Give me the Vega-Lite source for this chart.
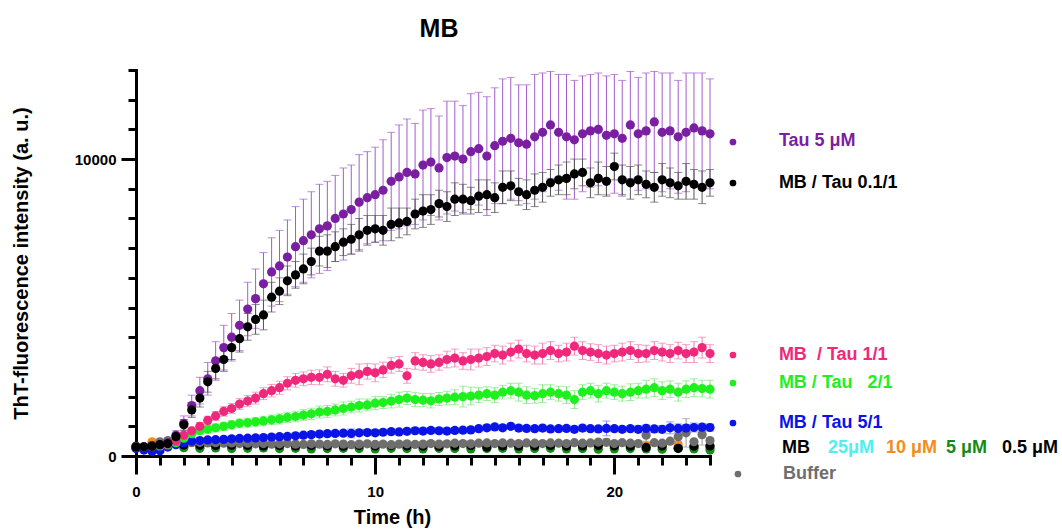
{
"$schema": "https://vega.github.io/schema/vega-lite/v6.json",
"width": 574, "height": 386,
"autosize": {"type": "none"},
"padding": {"left": 136, "top": 70, "right": 352, "bottom": 75},
"background": "white",
"title": {"text": "MB", "fontSize": 25, "font": "Liberation Sans", "fontWeight": "bold", "anchor": "middle", "dx": 16, "dy": 31, "offset": 32, "baseline": "alphabetic", "color": "black"},
"config": {"view": {"stroke": null}, "font": "Liberation Sans"},
"datasets": {
"pts": [
{"s":"C","t":0,"y":300},{"s":"C","t":0.67,"y":330},{"s":"C","t":1.33,"y":380},{"s":"C","t":2,"y":320},{"s":"C","t":2.67,"y":300},{"s":"C","t":3.33,"y":310},{"s":"C","t":4,"y":290},{"s":"C","t":4.67,"y":300},{"s":"C","t":5.33,"y":280},{"s":"C","t":6,"y":290},{"s":"C","t":6.67,"y":300},{"s":"C","t":7.33,"y":280},{"s":"C","t":8,"y":290},{"s":"C","t":8.67,"y":300},{"s":"C","t":9.33,"y":290},{"s":"C","t":10,"y":280},{"s":"C","t":10.67,"y":300},{"s":"C","t":11.33,"y":290},{"s":"C","t":12,"y":300},{"s":"C","t":12.67,"y":310},{"s":"C","t":13.33,"y":290},{"s":"C","t":14,"y":300},{"s":"C","t":14.67,"y":290},{"s":"C","t":15.33,"y":280},{"s":"C","t":16,"y":300},{"s":"C","t":16.67,"y":290},{"s":"C","t":17.33,"y":300},{"s":"C","t":18,"y":310},{"s":"C","t":18.67,"y":290},{"s":"C","t":19.33,"y":300},{"s":"C","t":20,"y":280},{"s":"C","t":20.67,"y":290},{"s":"C","t":21.33,"y":300},{"s":"C","t":22,"y":310},{"s":"C","t":22.67,"y":290},{"s":"C","t":23.33,"y":300},{"s":"C","t":24,"y":290},
{"s":"O","t":0,"y":320},{"s":"O","t":0.67,"y":480},{"s":"O","t":1.33,"y":420},{"s":"O","t":2,"y":330},{"s":"O","t":2.67,"y":320},{"s":"O","t":3.33,"y":310},{"s":"O","t":4,"y":300},{"s":"O","t":4.67,"y":320},{"s":"O","t":5.33,"y":310},{"s":"O","t":6,"y":300},{"s":"O","t":6.67,"y":290},{"s":"O","t":7.33,"y":310},{"s":"O","t":8,"y":300},{"s":"O","t":8.67,"y":290},{"s":"O","t":9.33,"y":310},{"s":"O","t":10,"y":300},{"s":"O","t":10.67,"y":320},{"s":"O","t":11.33,"y":300},{"s":"O","t":12,"y":310},{"s":"O","t":12.67,"y":290},{"s":"O","t":13.33,"y":300},{"s":"O","t":14,"y":310},{"s":"O","t":14.67,"y":320},{"s":"O","t":15.33,"y":300},{"s":"O","t":16,"y":310},{"s":"O","t":16.67,"y":300},{"s":"O","t":17.33,"y":290},{"s":"O","t":18,"y":310},{"s":"O","t":18.67,"y":300},{"s":"O","t":19.33,"y":320},{"s":"O","t":20,"y":310},{"s":"O","t":20.67,"y":300},{"s":"O","t":21.33,"y":350},{"s":"O","t":22,"y":320},{"s":"O","t":22.67,"y":380},{"s":"O","t":23.33,"y":330},{"s":"O","t":24,"y":300},
{"s":"D","t":0,"y":280},{"s":"D","t":0.67,"y":300},{"s":"D","t":1.33,"y":320},{"s":"D","t":2,"y":280},{"s":"D","t":2.67,"y":260},{"s":"D","t":3.33,"y":270},{"s":"D","t":4,"y":250},{"s":"D","t":4.67,"y":260},{"s":"D","t":5.33,"y":270},{"s":"D","t":6,"y":250},{"s":"D","t":6.67,"y":260},{"s":"D","t":7.33,"y":240},{"s":"D","t":8,"y":250},{"s":"D","t":8.67,"y":260},{"s":"D","t":9.33,"y":250},{"s":"D","t":10,"y":240},{"s":"D","t":10.67,"y":260},{"s":"D","t":11.33,"y":250},{"s":"D","t":12,"y":240},{"s":"D","t":12.67,"y":260},{"s":"D","t":13.33,"y":250},{"s":"D","t":14,"y":240},{"s":"D","t":14.67,"y":250},{"s":"D","t":15.33,"y":260},{"s":"D","t":16,"y":240},{"s":"D","t":16.67,"y":250},{"s":"D","t":17.33,"y":260},{"s":"D","t":18,"y":240},{"s":"D","t":18.67,"y":250},{"s":"D","t":19.33,"y":230},{"s":"D","t":20,"y":240},{"s":"D","t":20.67,"y":250},{"s":"D","t":21.33,"y":240},{"s":"D","t":22,"y":230},{"s":"D","t":22.67,"y":250},{"s":"D","t":23.33,"y":240},{"s":"D","t":24,"y":200},
{"s":"Z","t":0,"y":330},{"s":"Z","t":0.67,"y":350},{"s":"Z","t":1.33,"y":390},{"s":"Z","t":2,"y":370},{"s":"Z","t":2.67,"y":360},{"s":"Z","t":3.33,"y":350},{"s":"Z","t":4,"y":360},{"s":"Z","t":4.67,"y":350},{"s":"Z","t":5.33,"y":340},{"s":"Z","t":6,"y":350},{"s":"Z","t":6.67,"y":340},{"s":"Z","t":7.33,"y":350},{"s":"Z","t":8,"y":340},{"s":"Z","t":8.67,"y":330},{"s":"Z","t":9.33,"y":350},{"s":"Z","t":10,"y":340},{"s":"Z","t":10.67,"y":350},{"s":"Z","t":11.33,"y":340},{"s":"Z","t":12,"y":330},{"s":"Z","t":12.67,"y":320},{"s":"Z","t":13.33,"y":340},{"s":"Z","t":14,"y":350},{"s":"Z","t":14.67,"y":300},{"s":"Z","t":15.33,"y":340},{"s":"Z","t":16,"y":330},{"s":"Z","t":16.67,"y":340},{"s":"Z","t":17.33,"y":350},{"s":"Z","t":18,"y":330},{"s":"Z","t":18.67,"y":340},{"s":"Z","t":19.33,"y":350},{"s":"Z","t":20,"y":340},{"s":"Z","t":20.67,"y":330},{"s":"Z","t":21.33,"y":290},{"s":"Z","t":22,"y":340},{"s":"Z","t":22.67,"y":260},{"s":"Z","t":23.33,"y":330},{"s":"Z","t":24,"y":340},
{"s":"Y","t":0,"y":280},{"s":"Y","t":0.33,"y":290},{"s":"Y","t":0.67,"y":330},{"s":"Y","t":1,"y":480},{"s":"Y","t":1.33,"y":520},{"s":"Y","t":1.67,"y":500},{"s":"Y","t":2,"y":470},{"s":"Y","t":2.33,"y":450},{"s":"Y","t":2.67,"y":460},{"s":"Y","t":3,"y":440},{"s":"Y","t":3.33,"y":450},{"s":"Y","t":3.67,"y":430},{"s":"Y","t":4,"y":440},{"s":"Y","t":4.33,"y":420},{"s":"Y","t":4.67,"y":430},{"s":"Y","t":5,"y":410},{"s":"Y","t":5.33,"y":420},{"s":"Y","t":5.67,"y":400},{"s":"Y","t":6,"y":410},{"s":"Y","t":6.33,"y":420},{"s":"Y","t":6.67,"y":400},{"s":"Y","t":7,"y":390},{"s":"Y","t":7.33,"y":410},{"s":"Y","t":7.67,"y":400},{"s":"Y","t":8,"y":390},{"s":"Y","t":8.33,"y":410},{"s":"Y","t":8.67,"y":400},{"s":"Y","t":9,"y":380},{"s":"Y","t":9.33,"y":400},{"s":"Y","t":9.67,"y":410},{"s":"Y","t":10,"y":390},{"s":"Y","t":10.33,"y":400},{"s":"Y","t":10.67,"y":380},{"s":"Y","t":11,"y":400},{"s":"Y","t":11.33,"y":410},{"s":"Y","t":11.67,"y":390},{"s":"Y","t":12,"y":400},{"s":"Y","t":12.33,"y":420},{"s":"Y","t":12.67,"y":400},{"s":"Y","t":13,"y":410},{"s":"Y","t":13.33,"y":430},{"s":"Y","t":13.67,"y":420},{"s":"Y","t":14,"y":410},{"s":"Y","t":14.33,"y":430},{"s":"Y","t":14.67,"y":440},{"s":"Y","t":15,"y":420},{"s":"Y","t":15.33,"y":440},{"s":"Y","t":15.67,"y":430},{"s":"Y","t":16,"y":420},{"s":"Y","t":16.33,"y":440},{"s":"Y","t":16.67,"y":430},{"s":"Y","t":17,"y":420},{"s":"Y","t":17.33,"y":440},{"s":"Y","t":17.67,"y":430},{"s":"Y","t":18,"y":420},{"s":"Y","t":18.33,"y":450},{"s":"Y","t":18.67,"y":430},{"s":"Y","t":19,"y":440},{"s":"Y","t":19.33,"y":470},{"s":"Y","t":19.67,"y":460,"e":120},{"s":"Y","t":20,"y":420},{"s":"Y","t":20.33,"y":450},{"s":"Y","t":20.67,"y":430},{"s":"Y","t":21,"y":420},{"s":"Y","t":21.33,"y":700,"e":200},{"s":"Y","t":21.67,"y":450},{"s":"Y","t":22,"y":430},{"s":"Y","t":22.33,"y":500},{"s":"Y","t":22.67,"y":650,"e":150},{"s":"Y","t":23,"y":780,"e":480},{"s":"Y","t":23.33,"y":480},{"s":"Y","t":23.67,"y":720,"e":350},{"s":"Y","t":24,"y":520},
{"s":"B","t":0,"y":250,"e":50},{"s":"B","t":0.33,"y":200,"e":50},{"s":"B","t":0.67,"y":150,"e":50},{"s":"B","t":1,"y":180,"e":50},{"s":"B","t":1.33,"y":300,"e":60},{"s":"B","t":1.67,"y":380,"e":60},{"s":"B","t":2,"y":450,"e":60},{"s":"B","t":2.33,"y":500,"e":70},{"s":"B","t":2.67,"y":520,"e":70},{"s":"B","t":3,"y":540,"e":70},{"s":"B","t":3.33,"y":550,"e":80},{"s":"B","t":3.67,"y":560,"e":80},{"s":"B","t":4,"y":580,"e":80},{"s":"B","t":4.33,"y":590,"e":80},{"s":"B","t":4.67,"y":600,"e":80},{"s":"B","t":5,"y":610,"e":90},{"s":"B","t":5.33,"y":620,"e":90},{"s":"B","t":5.67,"y":640,"e":90},{"s":"B","t":6,"y":650,"e":90},{"s":"B","t":6.33,"y":660,"e":90},{"s":"B","t":6.67,"y":680,"e":90},{"s":"B","t":7,"y":700,"e":100},{"s":"B","t":7.33,"y":720,"e":100},{"s":"B","t":7.67,"y":740,"e":100},{"s":"B","t":8,"y":750,"e":100},{"s":"B","t":8.33,"y":760,"e":100},{"s":"B","t":8.67,"y":770,"e":100},{"s":"B","t":9,"y":760,"e":150},{"s":"B","t":9.33,"y":780,"e":100},{"s":"B","t":9.67,"y":790,"e":100},{"s":"B","t":10,"y":780,"e":100},{"s":"B","t":10.33,"y":800,"e":100},{"s":"B","t":10.67,"y":820,"e":100},{"s":"B","t":11,"y":810,"e":100},{"s":"B","t":11.33,"y":830,"e":100},{"s":"B","t":11.67,"y":850,"e":100},{"s":"B","t":12,"y":840,"e":100},{"s":"B","t":12.33,"y":860,"e":100},{"s":"B","t":12.67,"y":850,"e":100},{"s":"B","t":13,"y":840,"e":100},{"s":"B","t":13.33,"y":860,"e":100},{"s":"B","t":13.67,"y":870,"e":100},{"s":"B","t":14,"y":880,"e":100},{"s":"B","t":14.33,"y":920,"e":100},{"s":"B","t":14.67,"y":950,"e":100},{"s":"B","t":15,"y":980,"e":100},{"s":"B","t":15.33,"y":950,"e":100},{"s":"B","t":15.67,"y":1000,"e":100},{"s":"B","t":16,"y":940,"e":100},{"s":"B","t":16.33,"y":930,"e":100},{"s":"B","t":16.67,"y":920,"e":100},{"s":"B","t":17,"y":940,"e":100},{"s":"B","t":17.33,"y":910,"e":100},{"s":"B","t":17.67,"y":920,"e":100},{"s":"B","t":18,"y":930,"e":100},{"s":"B","t":18.33,"y":900,"e":100},{"s":"B","t":18.67,"y":940,"e":100},{"s":"B","t":19,"y":920,"e":100},{"s":"B","t":19.33,"y":910,"e":100},{"s":"B","t":19.67,"y":930,"e":250},{"s":"B","t":20,"y":920,"e":100},{"s":"B","t":20.33,"y":900,"e":100},{"s":"B","t":20.67,"y":920,"e":100},{"s":"B","t":21,"y":900,"e":120},{"s":"B","t":21.33,"y":930,"e":120},{"s":"B","t":21.67,"y":910,"e":120},{"s":"B","t":22,"y":900,"e":120},{"s":"B","t":22.33,"y":950,"e":200},{"s":"B","t":22.67,"y":930,"e":150},{"s":"B","t":23,"y":940,"e":120},{"s":"B","t":23.33,"y":960,"e":150},{"s":"B","t":23.67,"y":970,"e":120},{"s":"B","t":24,"y":960,"e":120},
{"s":"G","t":0,"y":300,"e":50},{"s":"G","t":0.33,"y":310,"e":50},{"s":"G","t":0.67,"y":320,"e":50},{"s":"G","t":1,"y":340,"e":50},{"s":"G","t":1.33,"y":370,"e":60},{"s":"G","t":1.67,"y":450,"e":80},{"s":"G","t":2,"y":600,"e":100},{"s":"G","t":2.33,"y":750,"e":120},{"s":"G","t":2.67,"y":850,"e":120},{"s":"G","t":3,"y":900,"e":130},{"s":"G","t":3.33,"y":950,"e":130},{"s":"G","t":3.67,"y":1000,"e":140},{"s":"G","t":4,"y":1050,"e":140},{"s":"G","t":4.33,"y":1100,"e":150},{"s":"G","t":4.67,"y":1120,"e":150},{"s":"G","t":5,"y":1150,"e":150},{"s":"G","t":5.33,"y":1180,"e":160},{"s":"G","t":5.67,"y":1220,"e":160},{"s":"G","t":6,"y":1250,"e":170},{"s":"G","t":6.33,"y":1300,"e":170},{"s":"G","t":6.67,"y":1330,"e":180},{"s":"G","t":7,"y":1380,"e":180},{"s":"G","t":7.33,"y":1420,"e":190},{"s":"G","t":7.67,"y":1480,"e":200},{"s":"G","t":8,"y":1500,"e":200},{"s":"G","t":8.33,"y":1550,"e":200},{"s":"G","t":8.67,"y":1600,"e":220},{"s":"G","t":9,"y":1650,"e":200},{"s":"G","t":9.33,"y":1700,"e":220},{"s":"G","t":9.67,"y":1720,"e":200},{"s":"G","t":10,"y":1780,"e":220},{"s":"G","t":10.33,"y":1800,"e":200},{"s":"G","t":10.67,"y":1850,"e":230},{"s":"G","t":11,"y":1900,"e":250},{"s":"G","t":11.33,"y":1950,"e":220},{"s":"G","t":11.67,"y":1900,"e":230},{"s":"G","t":12,"y":1880,"e":220},{"s":"G","t":12.33,"y":1860,"e":240},{"s":"G","t":12.67,"y":1920,"e":220},{"s":"G","t":13,"y":1950,"e":230},{"s":"G","t":13.33,"y":1980,"e":250},{"s":"G","t":13.67,"y":2000,"e":350},{"s":"G","t":14,"y":2020,"e":300},{"s":"G","t":14.33,"y":2050,"e":250},{"s":"G","t":14.67,"y":2100,"e":230},{"s":"G","t":15,"y":2050,"e":250},{"s":"G","t":15.33,"y":2150,"e":230},{"s":"G","t":15.67,"y":2200,"e":250},{"s":"G","t":16,"y":2150,"e":300},{"s":"G","t":16.33,"y":2050,"e":280},{"s":"G","t":16.67,"y":2030,"e":250},{"s":"G","t":17,"y":2100,"e":300},{"s":"G","t":17.33,"y":2150,"e":250},{"s":"G","t":17.67,"y":2100,"e":250},{"s":"G","t":18,"y":2050,"e":280},{"s":"G","t":18.33,"y":1900,"e":300},{"s":"G","t":18.67,"y":2150,"e":250},{"s":"G","t":19,"y":2200,"e":250},{"s":"G","t":19.33,"y":2100,"e":280},{"s":"G","t":19.67,"y":2200,"e":250},{"s":"G","t":20,"y":2150,"e":250},{"s":"G","t":20.33,"y":2100,"e":250},{"s":"G","t":20.67,"y":2150,"e":280},{"s":"G","t":21,"y":2200,"e":250},{"s":"G","t":21.33,"y":2250,"e":300},{"s":"G","t":21.67,"y":2300,"e":300},{"s":"G","t":22,"y":2200,"e":300},{"s":"G","t":22.33,"y":2250,"e":280},{"s":"G","t":22.67,"y":2150,"e":300},{"s":"G","t":23,"y":2250,"e":280},{"s":"G","t":23.33,"y":2300,"e":300},{"s":"G","t":23.67,"y":2270,"e":280},{"s":"G","t":24,"y":2250,"e":300},
{"s":"R","t":0,"y":300,"e":50},{"s":"R","t":0.33,"y":310,"e":50},{"s":"R","t":0.67,"y":330,"e":50},{"s":"R","t":1,"y":360,"e":60},{"s":"R","t":1.33,"y":400,"e":70},{"s":"R","t":1.67,"y":500,"e":90},{"s":"R","t":2,"y":700,"e":100},{"s":"R","t":2.33,"y":850,"e":120},{"s":"R","t":2.67,"y":1000,"e":130},{"s":"R","t":3,"y":1200,"e":140},{"s":"R","t":3.33,"y":1350,"e":150},{"s":"R","t":3.67,"y":1500,"e":160},{"s":"R","t":4,"y":1600,"e":170},{"s":"R","t":4.33,"y":1750,"e":180},{"s":"R","t":4.67,"y":1850,"e":190},{"s":"R","t":5,"y":1950,"e":200},{"s":"R","t":5.33,"y":2100,"e":200},{"s":"R","t":5.67,"y":2200,"e":210},{"s":"R","t":6,"y":2300,"e":220},{"s":"R","t":6.33,"y":2450,"e":220},{"s":"R","t":6.67,"y":2550,"e":230},{"s":"R","t":7,"y":2600,"e":230},{"s":"R","t":7.33,"y":2650,"e":240},{"s":"R","t":7.67,"y":2650,"e":250},{"s":"R","t":8,"y":2750,"e":250},{"s":"R","t":8.33,"y":2600,"e":250},{"s":"R","t":8.67,"y":2550,"e":230},{"s":"R","t":9,"y":2700,"e":250},{"s":"R","t":9.33,"y":2750,"e":350},{"s":"R","t":9.67,"y":2850,"e":260},{"s":"R","t":10,"y":2800,"e":300},{"s":"R","t":10.33,"y":2900,"e":260},{"s":"R","t":10.67,"y":3050,"e":260},{"s":"R","t":11,"y":3100,"e":250},{"s":"R","t":11.33,"y":2700,"e":250},{"s":"R","t":11.67,"y":3200,"e":280},{"s":"R","t":12,"y":3150,"e":260},{"s":"R","t":12.33,"y":3100,"e":280},{"s":"R","t":12.67,"y":3150,"e":260},{"s":"R","t":13,"y":3250,"e":280},{"s":"R","t":13.33,"y":3300,"e":300},{"s":"R","t":13.67,"y":3200,"e":280},{"s":"R","t":14,"y":3250,"e":350},{"s":"R","t":14.33,"y":3300,"e":300},{"s":"R","t":14.67,"y":3350,"e":300},{"s":"R","t":15,"y":3450,"e":280},{"s":"R","t":15.33,"y":3400,"e":300},{"s":"R","t":15.67,"y":3500,"e":300},{"s":"R","t":16,"y":3600,"e":300},{"s":"R","t":16.33,"y":3450,"e":280},{"s":"R","t":16.67,"y":3400,"e":300},{"s":"R","t":17,"y":3450,"e":350},{"s":"R","t":17.33,"y":3550,"e":300},{"s":"R","t":17.67,"y":3450,"e":280},{"s":"R","t":18,"y":3500,"e":300},{"s":"R","t":18.33,"y":3700,"e":300},{"s":"R","t":18.67,"y":3550,"e":300},{"s":"R","t":19,"y":3500,"e":280},{"s":"R","t":19.33,"y":3450,"e":300},{"s":"R","t":19.67,"y":3400,"e":300},{"s":"R","t":20,"y":3450,"e":280},{"s":"R","t":20.33,"y":3500,"e":300},{"s":"R","t":20.67,"y":3550,"e":300},{"s":"R","t":21,"y":3450,"e":300},{"s":"R","t":21.33,"y":3450,"e":280},{"s":"R","t":21.67,"y":3550,"e":300},{"s":"R","t":22,"y":3500,"e":300},{"s":"R","t":22.33,"y":3450,"e":300},{"s":"R","t":22.67,"y":3550,"e":280},{"s":"R","t":23,"y":3450,"e":300},{"s":"R","t":23.33,"y":3500,"e":350},{"s":"R","t":23.67,"y":3650,"e":350},{"s":"R","t":24,"y":3450,"e":300},
{"s":"P","t":0,"y":300,"e":60},{"s":"P","t":0.33,"y":310,"e":60},{"s":"P","t":0.67,"y":330,"e":70},{"s":"P","t":1,"y":380,"e":80},{"s":"P","t":1.33,"y":450,"e":100},{"s":"P","t":1.67,"y":700,"e":150},{"s":"P","t":2,"y":1100,"e":250},{"s":"P","t":2.33,"y":1700,"e":350},{"s":"P","t":2.67,"y":2200,"e":450},{"s":"P","t":3,"y":2600,"e":550},{"s":"P","t":3.33,"y":3200,"e":650},{"s":"P","t":3.67,"y":3650,"e":750},{"s":"P","t":4,"y":4000,"e":800},{"s":"P","t":4.33,"y":4400,"e":850},{"s":"P","t":4.67,"y":4950,"e":900},{"s":"P","t":5,"y":5300,"e":1000},{"s":"P","t":5.33,"y":5800,"e":1050},{"s":"P","t":5.67,"y":6200,"e":1150},{"s":"P","t":6,"y":6400,"e":1200},{"s":"P","t":6.33,"y":6700,"e":1250},{"s":"P","t":6.67,"y":7050,"e":1350},{"s":"P","t":7,"y":7250,"e":1400},{"s":"P","t":7.33,"y":7450,"e":1450},{"s":"P","t":7.67,"y":7650,"e":1500},{"s":"P","t":8,"y":7750,"e":1500},{"s":"P","t":8.33,"y":8000,"e":1450},{"s":"P","t":8.67,"y":8150,"e":1550},{"s":"P","t":9,"y":8300,"e":1500},{"s":"P","t":9.33,"y":8550,"e":1600},{"s":"P","t":9.67,"y":8700,"e":1550},{"s":"P","t":10,"y":8800,"e":1600},{"s":"P","t":10.33,"y":8950,"e":1700},{"s":"P","t":10.67,"y":9250,"e":1650},{"s":"P","t":11,"y":9400,"e":1750},{"s":"P","t":11.33,"y":9550,"e":1800},{"s":"P","t":11.67,"y":9500,"e":1700},{"s":"P","t":12,"y":9800,"e":1850},{"s":"P","t":12.33,"y":9900,"e":1800},{"s":"P","t":12.67,"y":9700,"e":1750},{"s":"P","t":13,"y":10050,"e":1900},{"s":"P","t":13.33,"y":10100,"e":1850},{"s":"P","t":13.67,"y":10000,"e":1800},{"s":"P","t":14,"y":10250,"e":1950},{"s":"P","t":14.33,"y":10350,"e":1900},{"s":"P","t":14.67,"y":10100,"e":2000},{"s":"P","t":15,"y":10450,"e":1950},{"s":"P","t":15.33,"y":10600,"e":2100},{"s":"P","t":15.67,"y":10700,"e":2050},{"s":"P","t":16,"y":10550,"e":1950},{"s":"P","t":16.33,"y":10500,"e":2000},{"s":"P","t":16.67,"y":10750,"e":2100},{"s":"P","t":17,"y":10900,"e":2000},{"s":"P","t":17.33,"y":11150,"e":1800},{"s":"P","t":17.67,"y":10900,"e":1950},{"s":"P","t":18,"y":10750,"e":2100},{"s":"P","t":18.33,"y":10650,"e":2000},{"s":"P","t":18.67,"y":10850,"e":1950},{"s":"P","t":19,"y":10950,"e":1900},{"s":"P","t":19.33,"y":11000,"e":1900},{"s":"P","t":19.67,"y":10800,"e":2000},{"s":"P","t":20,"y":10850,"e":2000},{"s":"P","t":20.33,"y":10700,"e":1950},{"s":"P","t":20.67,"y":11150,"e":1800},{"s":"P","t":21,"y":10850,"e":1900},{"s":"P","t":21.33,"y":10950,"e":1950},{"s":"P","t":21.67,"y":11250,"e":1700},{"s":"P","t":22,"y":10900,"e":2000},{"s":"P","t":22.33,"y":10950,"e":1950},{"s":"P","t":22.67,"y":10750,"e":1900},{"s":"P","t":23,"y":10900,"e":2000},{"s":"P","t":23.33,"y":11050,"e":1850},{"s":"P","t":23.67,"y":10950,"e":1950},{"s":"P","t":24,"y":10850,"e":1850},
{"s":"K","t":0,"y":300,"e":50},{"s":"K","t":0.33,"y":310,"e":50},{"s":"K","t":0.67,"y":330,"e":50},{"s":"K","t":1,"y":380,"e":60},{"s":"K","t":1.33,"y":420,"e":80},{"s":"K","t":1.67,"y":650,"e":120},{"s":"K","t":2,"y":1050,"e":180},{"s":"K","t":2.33,"y":1550,"e":250},{"s":"K","t":2.67,"y":1950,"e":300},{"s":"K","t":3,"y":2500,"e":350},{"s":"K","t":3.33,"y":2950,"e":350},{"s":"K","t":3.67,"y":3250,"e":400},{"s":"K","t":4,"y":3650,"e":400},{"s":"K","t":4.33,"y":3950,"e":450},{"s":"K","t":4.67,"y":4350,"e":450},{"s":"K","t":5,"y":4600,"e":500},{"s":"K","t":5.33,"y":4750,"e":500},{"s":"K","t":5.67,"y":5350,"e":500},{"s":"K","t":6,"y":5550,"e":450},{"s":"K","t":6.33,"y":5900,"e":500},{"s":"K","t":6.67,"y":6100,"e":450},{"s":"K","t":7,"y":6300,"e":500},{"s":"K","t":7.33,"y":6550,"e":450},{"s":"K","t":7.67,"y":6900,"e":500},{"s":"K","t":8,"y":6900,"e":550},{"s":"K","t":8.33,"y":7050,"e":500},{"s":"K","t":8.67,"y":7200,"e":450},{"s":"K","t":9,"y":7300,"e":500},{"s":"K","t":9.33,"y":7450,"e":550},{"s":"K","t":9.67,"y":7600,"e":500},{"s":"K","t":10,"y":7650,"e":450},{"s":"K","t":10.33,"y":7600,"e":500},{"s":"K","t":10.67,"y":7800,"e":550},{"s":"K","t":11,"y":7850,"e":500},{"s":"K","t":11.33,"y":7900,"e":450},{"s":"K","t":11.67,"y":8150,"e":500},{"s":"K","t":12,"y":8250,"e":550},{"s":"K","t":12.33,"y":8300,"e":500},{"s":"K","t":12.67,"y":8500,"e":450},{"s":"K","t":13,"y":8400,"e":500},{"s":"K","t":13.33,"y":8650,"e":550},{"s":"K","t":13.67,"y":8650,"e":500},{"s":"K","t":14,"y":8600,"e":450},{"s":"K","t":14.33,"y":8750,"e":550},{"s":"K","t":14.67,"y":8800,"e":500},{"s":"K","t":15,"y":8700,"e":500},{"s":"K","t":15.33,"y":9050,"e":550},{"s":"K","t":15.67,"y":9100,"e":500},{"s":"K","t":16,"y":8900,"e":450},{"s":"K","t":16.33,"y":8800,"e":500},{"s":"K","t":16.67,"y":8950,"e":550},{"s":"K","t":17,"y":9050,"e":500},{"s":"K","t":17.33,"y":9200,"e":450},{"s":"K","t":17.67,"y":9300,"e":500},{"s":"K","t":18,"y":9350,"e":550},{"s":"K","t":18.33,"y":9500,"e":500},{"s":"K","t":18.67,"y":9550,"e":450},{"s":"K","t":19,"y":9200,"e":500},{"s":"K","t":19.33,"y":9350,"e":550},{"s":"K","t":19.67,"y":9250,"e":500},{"s":"K","t":20,"y":9750,"e":450},{"s":"K","t":20.33,"y":9300,"e":500},{"s":"K","t":20.67,"y":9200,"e":550},{"s":"K","t":21,"y":9300,"e":500},{"s":"K","t":21.33,"y":9150,"e":450},{"s":"K","t":21.67,"y":9050,"e":500},{"s":"K","t":22,"y":9300,"e":550},{"s":"K","t":22.33,"y":9200,"e":500},{"s":"K","t":22.67,"y":9100,"e":450},{"s":"K","t":23,"y":9250,"e":600},{"s":"K","t":23.33,"y":9150,"e":500},{"s":"K","t":23.67,"y":9050,"e":550},{"s":"K","t":24,"y":9200,"e":450}
],
"labs": [
{"s":"P","t":26.88,"y":10609,"txt":"Tau 5 μM"},
{"s":"K","t":26.88,"y":9194,"txt":"MB / Tau 0.1/1"},
{"s":"R","t":26.88,"y":3402,"txt":"MB\u00a0 / Tau 1/1"},
{"s":"G","t":26.88,"y":2459,"txt":"MB / Tau\u00a0\u00a0 2/1"},
{"s":"B","t":26.88,"y":1111,"txt":"MB / Tau 5/1"},
{"s":"Z","t":27.01,"y":269,"txt":"MB"},
{"s":"C","t":28.93,"y":269,"txt":"25μM"},
{"s":"O","t":31.36,"y":269,"txt":"10 μM"},
{"s":"D","t":33.87,"y":269,"txt":"5 μM"},
{"s":"Z","t":36.21,"y":269,"txt":"0.5 μM"},
{"s":"Y","t":27.05,"y":-606,"txt":"Buffer"}
],
"dots": [
{"s":"P","t":24.96,"y":10575},
{"s":"K","t":24.96,"y":9194},
{"s":"R","t":24.96,"y":3402},
{"s":"G","t":24.96,"y":2459},
{"s":"B","t":24.96,"y":1111},
{"s":"Y","t":25.17,"y":-606}
]
},
"encoding": {
"x": {"field": "t", "type": "quantitative", "scale": {"domain": [0, 24], "nice": false, "zero": false},
 "axis": {"values": [0,1,2,3,4,5,6,7,8,9,10,11,12,13,14,15,16,17,18,19,20,21,22,23,24],
  "labelExpr": "datum.value % 10 === 0 ? datum.label : ''",
  "tickSize": {"condition": {"test": "datum.value % 10 === 0", "value": 18}, "value": 9},
  "domainWidth": 3, "tickWidth": 3, "domainColor": "black", "tickColor": "black", "domainCap": "square",
  "labelFontSize": 15, "labelFontWeight": "bold", "labelColor": "black", "labelPadding": 10, "labelFlush": false, "labelOverlap": false,
  "title": "Time (h)", "titleFontSize": 20, "titleFontWeight": "bold", "titleColor": "black", "titleX": 256, "titlePadding": 8, "grid": false}},
"y": {"field": "y", "type": "quantitative", "scale": {"domain": [0, 13000], "nice": false, "zero": false},
 "axis": {"values": [0,1000,2000,3000,4000,5000,6000,7000,8000,9000,10000,11000,12000,13000],
  "format": "d",
  "labelExpr": "datum.value === 0 || datum.value === 10000 ? datum.label : ''",
  "tickSize": {"condition": {"test": "datum.value === 0 || datum.value === 10000", "value": 15}, "value": 8},
  "domainWidth": 3, "tickWidth": 3, "domainColor": "black", "tickColor": "black", "domainCap": "square",
  "labelFontSize": 15, "labelFontWeight": "bold", "labelColor": "black", "labelPadding": 5, "labelOverlap": false, "labelFlush": false,
  "title": "ThT-fluorescence intensity (a. u.)", "titleFontSize": 20, "titleFontWeight": "bold", "titleColor": "black", "titlePadding": 43, "grid": false}}
},
"layer": [
{"data": {"name": "pts"}, "transform": [{"filter": "datum.s === 'P'"}], "mark": {"type": "errorbar", "ticks": {"size": 8}, "thickness": 1, "color": "#a35ccc"}, "encoding": {"yError": {"field": "e"}}},
{"data": {"name": "pts"}, "transform": [{"filter": "datum.s === 'K'"}], "mark": {"type": "errorbar", "ticks": {"size": 8}, "thickness": 1, "color": "#555555"}, "encoding": {"yError": {"field": "e"}}},
{"data": {"name": "pts"}, "transform": [{"filter": "datum.s === 'R'"}], "mark": {"type": "errorbar", "ticks": {"size": 8}, "thickness": 1, "color": "#f27aae"}, "encoding": {"yError": {"field": "e"}}},
{"data": {"name": "pts"}, "transform": [{"filter": "datum.s === 'G'"}], "mark": {"type": "errorbar", "ticks": {"size": 8}, "thickness": 1, "color": "#7ae87a"}, "encoding": {"yError": {"field": "e"}}},
{"data": {"name": "pts"}, "transform": [{"filter": "datum.s === 'B'"}], "mark": {"type": "errorbar", "ticks": {"size": 8}, "thickness": 1, "color": "#7a7aff"}, "encoding": {"yError": {"field": "e"}}},
{"data": {"name": "pts"}, "transform": [{"filter": "datum.s === 'Y' && datum.e > 0"}], "mark": {"type": "errorbar", "ticks": {"size": 8}, "thickness": 1, "color": "#999999"}, "encoding": {"yError": {"field": "e"}}},
{"data": {"name": "pts"}, "mark": {"type": "point", "filled": true, "size": 85, "opacity": 1},
 "encoding": {"color": {"field": "s", "type": "nominal", "legend": null,
  "scale": {"domain": ["P","K","R","G","B","C","O","D","Z","Y"], "range": ["#7b1fa2","#000000","#f0287c","#1ef01e","#0a14e6","#4ef0f0","#f28c1e","#168a16","#000000","#6e6e6e"]}}}},
{"data": {"name": "dots"}, "mark": {"type": "point", "filled": true, "size": 45, "opacity": 1},
 "encoding": {"color": {"field": "s", "type": "nominal", "legend": null}}},
{"data": {"name": "labs"}, "mark": {"type": "text", "align": "left", "baseline": "middle", "fontSize": 18, "fontWeight": "bold", "font": "Liberation Sans"},
 "encoding": {"text": {"field": "txt"}, "color": {"field": "s", "type": "nominal", "legend": null}}}
]
}
